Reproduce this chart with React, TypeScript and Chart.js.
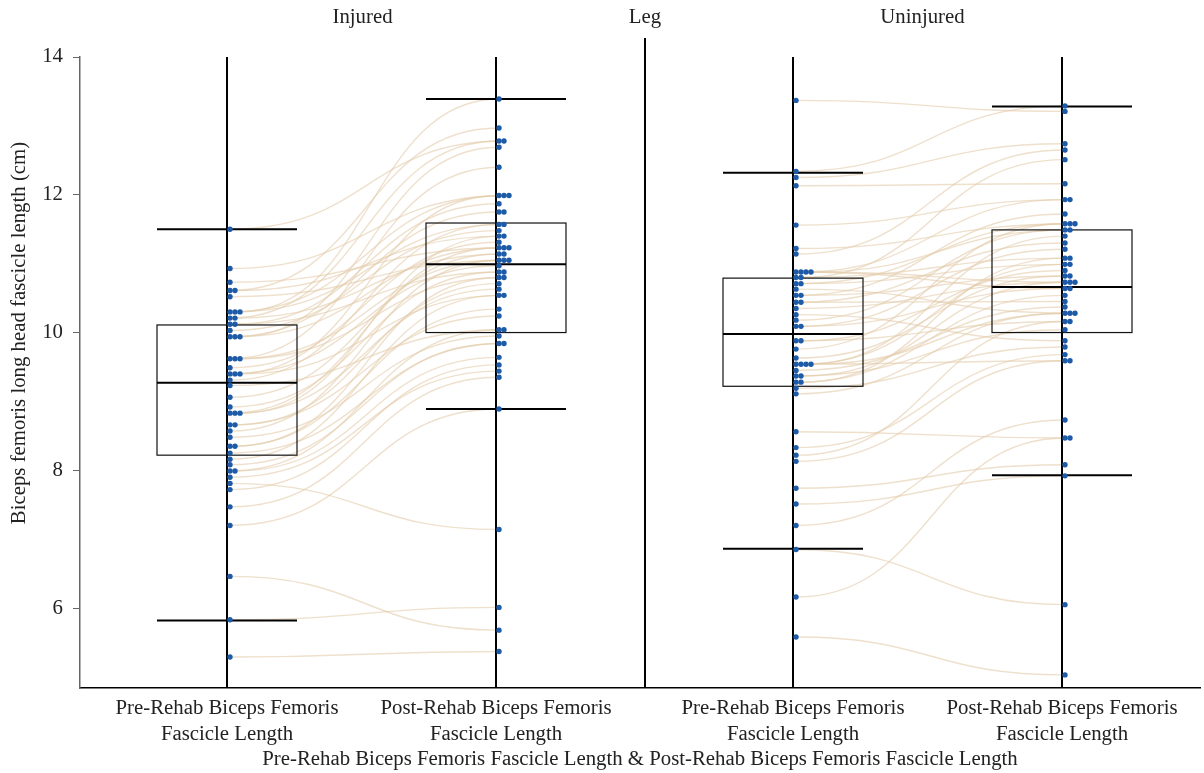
import React, { useEffect, useRef } from "react";
import { Chart, registerables } from "chart.js";

Chart.register(...registerables);

// ---- Data ----
const categoryLabels: string[][] = [
  ["Pre-Rehab Biceps Femoris", "Fascicle Length"],
  ["Post-Rehab Biceps Femoris", "Fascicle Length"],
  ["Pre-Rehab Biceps Femoris", "Fascicle Length"],
  ["Post-Rehab Biceps Femoris", "Fascicle Length"],
];
const panelLabels = ["Injured", "Uninjured"];
const facetTitle = "Leg";
const xTitle =
  "Pre-Rehab Biceps Femoris Fascicle Length & Post-Rehab Biceps Femoris Fascicle Length";
const yTitle = "Biceps femoris long head fascicle length (cm)";
const yTicks = [6, 8, 10, 12, 14];

// paired values: index i of pre connects to index i of post
const injuredPre = [
  5.29, 5.83, 6.46, 7.2, 7.47, 7.72, 7.81, 7.9, 7.99, 7.99, 8.08, 8.16, 8.25, 8.35, 8.35, 8.48,
  8.57, 8.66, 8.66, 8.83, 8.83, 8.83, 8.92, 9.06, 9.23, 9.31, 9.4, 9.4, 9.4, 9.49, 9.62, 9.62,
  9.62, 9.94, 9.94, 9.94, 10.03, 10.12, 10.12, 10.21, 10.21, 10.3, 10.3, 10.3, 10.52, 10.61,
  10.61, 10.73, 10.93, 11.5,
];
const injuredPost = [
  5.37, 6.01, 5.68, 8.89, 9.35, 9.53, 7.14, 9.44, 10.04, 9.64, 9.84, 10.54, 9.84, 10.34, 10.8,
  9.95, 11.05, 10.24, 10.71, 11.23, 10.63, 11.4, 10.88, 11.14, 10.04, 11.57, 10.97, 11.99, 10.54,
  11.31, 12.4, 11.05, 10.8, 11.75, 11.23, 12.69, 11.48, 10.88, 11.87, 12.78, 11.14, 11.99, 11.57,
  13.39, 11.05, 12.97, 11.4, 11.23, 11.99, 12.78, 11.75,
];
const uninjuredPre = [
  5.58, 6.16, 6.85, 7.2, 7.51, 7.74, 8.13, 8.22, 8.33, 8.56, 9.11, 9.19, 9.28, 9.28, 9.37, 9.37,
  9.45, 9.54, 9.54, 9.54, 9.54, 9.63, 9.76, 9.88, 9.88, 10.09, 10.09, 10.18, 10.26, 10.35, 10.44,
  10.44, 10.54, 10.54, 10.63, 10.71, 10.71, 10.8, 10.8, 10.88, 10.88, 10.88, 10.88, 11.14, 11.22,
  11.56, 12.13, 12.25, 12.34, 13.37,
];
const uninjuredPost = [
  5.03, 8.47, 6.05, 8.73, 7.92, 8.08, 9.59, 10.16, 9.68, 8.47, 10.28, 9.79, 10.54, 11.08, 10.04,
  10.73, 10.37, 9.59, 10.99, 11.4, 10.28, 10.82, 11.58, 10.16, 10.9, 11.21, 10.64, 11.49, 9.88,
  10.73, 11.3, 10.45, 11.72, 10.82, 10.28, 11.58, 10.99, 11.08, 12.51, 10.64, 11.93, 10.73, 11.49,
  12.65, 11.58, 11.93, 12.16, 12.74, 13.29, 13.21,
];

// box plot statistics per column
const boxQ1 = [8.22, 10.0, 9.22, 10.0];
const boxMedian = [9.27, 10.99, 9.98, 10.66];
const boxQ3 = [10.11, 11.59, 10.79, 11.49];
const whiskerLow = [5.82, 8.89, 6.86, 7.93];
const whiskerHigh = [11.5, 13.39, 12.32, 13.28];

// x positions of the four columns and panel divider (x-axis units)
const categoryPos = [147, 416, 713, 982];
const dividerPos = 565;
const xMax = 1120;

const FONT = "'Liberation Serif', 'Times New Roman', serif";
const FONT_SIZE = 20.8;
const dotColor = "#1d5aa8";
const curveColor = "rgba(226, 204, 170, 0.6)";

function swarm(values: number[], center: number) {
  const seen: Record<string, number> = {};
  return values.map((v) => {
    const key = v.toFixed(2);
    const k = seen[key] || 0;
    seen[key] = k + 1;
    return { x: center + 3 + 5 * k, y: v };
  });
}

export default function App() {
  const ref = useRef<HTMLCanvasElement | null>(null);

  useEffect(() => {
    if (!ref.current) return;
    const cols = [
      swarm(injuredPre, categoryPos[0]),
      swarm(injuredPost, categoryPos[1]),
      swarm(uninjuredPre, categoryPos[2]),
      swarm(uninjuredPost, categoryPos[3]),
    ];

    const overlay = {
      id: "overlay",
      beforeDatasetsDraw(chart: any) {
        const { ctx, chartArea, scales } = chart;
        const xs = scales.x;
        const ys = scales.y;
        ctx.save();
        // connecting curves
        ctx.strokeStyle = curveColor;
        ctx.lineWidth = 1.4;
        [
          [cols[0], cols[1]],
          [cols[2], cols[3]],
        ].forEach(([a, b]) => {
          const n = Math.min(a.length, b.length);
          for (let i = 0; i < n; i++) {
            const x0 = xs.getPixelForValue(a[i].x);
            const y0 = ys.getPixelForValue(a[i].y);
            const x1 = xs.getPixelForValue(b[i].x);
            const y1 = ys.getPixelForValue(b[i].y);
            const cx = (x0 + x1) / 2;
            ctx.beginPath();
            ctx.moveTo(x0, y0);
            ctx.bezierCurveTo(cx, y0, cx, y1, x1, y1);
            ctx.stroke();
          }
        });
        // vertical category lines
        ctx.strokeStyle = "#000";
        ctx.lineWidth = 2;
        categoryPos.forEach((p) => {
          const px = xs.getPixelForValue(p);
          ctx.beginPath();
          ctx.moveTo(px, chartArea.top);
          ctx.lineTo(px, chartArea.bottom);
          ctx.stroke();
        });
        // divider
        const dx = xs.getPixelForValue(dividerPos);
        ctx.beginPath();
        ctx.moveTo(dx, chartArea.top - 19);
        ctx.lineTo(dx, chartArea.bottom);
        ctx.stroke();
        // boxes & whiskers
        categoryPos.forEach((p, i) => {
          const l = xs.getPixelForValue(p - 70);
          const r = xs.getPixelForValue(p + 70);
          const q1 = ys.getPixelForValue(boxQ1[i]);
          const q3 = ys.getPixelForValue(boxQ3[i]);
          const md = ys.getPixelForValue(boxMedian[i]);
          ctx.lineWidth = 1.2;
          ctx.strokeStyle = "#111";
          ctx.strokeRect(l, q3, r - l, q1 - q3);
          ctx.lineWidth = 2;
          ctx.strokeStyle = "#000";
          [md, ys.getPixelForValue(whiskerLow[i]), ys.getPixelForValue(whiskerHigh[i])].forEach(
            (yy) => {
              ctx.beginPath();
              ctx.moveTo(l, yy);
              ctx.lineTo(r, yy);
              ctx.stroke();
            }
          );
        });
        ctx.restore();
      },
      afterDraw(chart: any) {
        const { ctx, chartArea, scales } = chart;
        const xs = scales.x;
        const dx = xs.getPixelForValue(dividerPos);
        ctx.save();
        ctx.font = `${FONT_SIZE}px ${FONT}`;
        ctx.fillStyle = "#222";
        ctx.textAlign = "center";
        ctx.textBaseline = "middle";
        ctx.fillText(panelLabels[0], (chartArea.left + dx) / 2, 18);
        ctx.fillText(facetTitle, dx, 18);
        ctx.fillText(panelLabels[1], (dx + chartArea.right) / 2, 18);
        // y-axis title
        ctx.translate(20, 333);
        ctx.rotate(-Math.PI / 2);
        ctx.fillText(yTitle, 0, 0);
        ctx.restore();
      },
    };

    const font = { family: FONT, size: FONT_SIZE, lineHeight: 1.27 };

    const chart = new Chart(ref.current, {
      type: "scatter",
      data: {
        datasets: cols.map((c) => ({
          data: c,
          backgroundColor: dotColor,
          borderColor: dotColor,
          pointRadius: 2.7,
          borderWidth: 0,
        })),
      },
      options: {
        animation: false,
        responsive: false,
        maintainAspectRatio: false,
        layout: { padding: { top: 57, right: 4, left: 0, bottom: 0 } },
        plugins: { legend: { display: false }, tooltip: { enabled: false } },
        scales: {
          x: {
            type: "linear",
            min: 0,
            max: xMax,
            afterFit: (s: any) => {
              s.height = 85;
            },
            afterBuildTicks: (s: any) => {
              s.ticks = categoryPos.map((v) => ({ value: v }));
            },
            ticks: {
              autoSkip: false,
              maxRotation: 0,
              padding: 7,
              font,
              color: "#222",
              callback: (v: any) => {
                const i = categoryPos.indexOf(Number(v));
                return i >= 0 ? categoryLabels[i] : "";
              },
            },
            grid: { display: false, drawTicks: false },
            border: { display: true, color: "#000", width: 1.5 },
            title: {
              display: true,
              text: xTitle,
              font,
              color: "#222",
              padding: { top: 0, bottom: 0 },
            },
          },
          y: {
            type: "linear",
            min: 4.84,
            max: 14,
            afterFit: (s: any) => {
              s.width = 80;
            },
            afterBuildTicks: (s: any) => {
              s.ticks = yTicks.map((v) => ({ value: v }));
            },
            ticks: { font, color: "#222", padding: 10 },
            grid: { drawOnChartArea: false, drawTicks: true, tickLength: 7, color: "#666" },
            border: { display: true, color: "#666", width: 1.5 },
            title: { display: false, text: yTitle },
          },
        },
      },
      plugins: [overlay],
    });
    return () => chart.destroy();
  }, []);

  return (
    <div style={{ position: "fixed", left: 0, top: 0, width: 1204, height: 773, background: "#fff" }}>
      <canvas ref={ref} width={1204} height={773} style={{ display: "block", width: 1204, height: 773 }} />
    </div>
  );
}
